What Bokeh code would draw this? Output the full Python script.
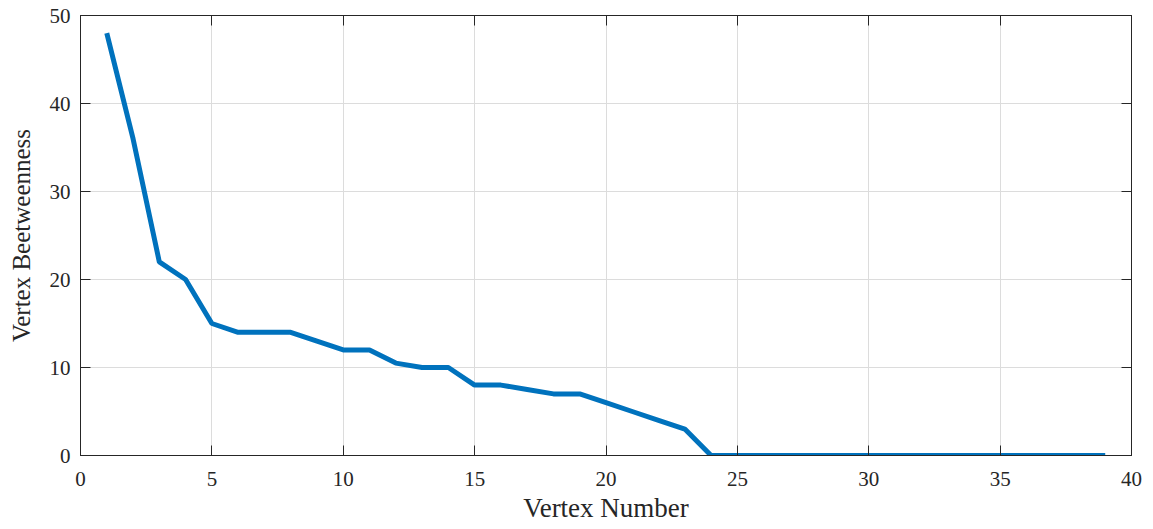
from bokeh.plotting import figure
from bokeh.models import Range1d, FixedTicker, LinearAxis, ColumnDataSource, CustomJSTickFormatter
from bokeh.embed import file_html
from bokeh.resources import INLINE

vertex_number = list(range(1, 40))
betweenness = [48, 36, 22, 20, 15, 14, 14, 14, 13, 12, 12, 10.5, 10, 10, 8, 8, 7.5, 7, 7,
               6, 5, 4, 3] + [0] * 16
x_ticks = [0, 5, 10, 15, 20, 25, 30, 35, 40]
y_ticks = [0, 10, 20, 30, 40, 50]

FONT = "Liberation Serif"
DARK = "#262626"

p = figure(width=1153, height=529, output_backend="svg", toolbar_location=None,
           x_range=Range1d(0, 40), y_range=Range1d(0, 50),
           min_border_left=80, min_border_right=22, min_border_top=15, min_border_bottom=74)
p.outline_line_color = DARK
p.outline_line_width = 1
p.background_fill_color = "white"
p.border_fill_color = "white"

src = ColumnDataSource(dict(x=vertex_number, y=betweenness))
p.line("x", "y", source=src, line_color="#0072BD", line_width=5)

for ax in (p.xaxis[0], p.yaxis[0]):
    ax.major_tick_in = 10
    ax.major_tick_out = 0
    ax.minor_tick_in = 0
    ax.minor_tick_out = 0
    ax.axis_line_color = DARK
    ax.major_tick_line_color = DARK
    ax.major_label_text_font = FONT
    ax.major_label_text_font_size = "21px"
    ax.major_label_text_color = DARK
    ax.axis_label_text_font = FONT
    ax.axis_label_text_font_style = "normal"
    ax.axis_label_text_color = DARK

p.xaxis[0].ticker = FixedTicker(ticks=x_ticks)
p.yaxis[0].ticker = FixedTicker(ticks=y_ticks)
p.xaxis[0].axis_label = "Vertex Number"
p.yaxis[0].axis_label = "Vertex Beetweenness"
p.xaxis[0].axis_label_text_font_size = "27px"
p.yaxis[0].axis_label_text_font_size = "25px"
p.xaxis[0].major_label_standoff = 16
p.yaxis[0].major_label_standoff = 10
p.xaxis[0].axis_label_standoff = 4
p.yaxis[0].axis_label_standoff = 12

blank = CustomJSTickFormatter(code="return ''")
top = LinearAxis(ticker=FixedTicker(ticks=x_ticks), major_tick_in=10, major_tick_out=0,
                 minor_tick_in=0, minor_tick_out=0, formatter=blank,
                 major_label_standoff=0, axis_line_color=DARK, major_tick_line_color=DARK)
right = LinearAxis(ticker=FixedTicker(ticks=y_ticks), major_tick_in=10, major_tick_out=0,
                   minor_tick_in=0, minor_tick_out=0, formatter=blank,
                   major_label_standoff=0, axis_line_color=DARK, major_tick_line_color=DARK)
p.add_layout(top, "above")
p.add_layout(right, "right")

p.xgrid.ticker = FixedTicker(ticks=x_ticks)
p.ygrid.ticker = FixedTicker(ticks=y_ticks)
p.grid.grid_line_color = "#dcdcdc"
p.grid.grid_line_width = 1

open("out.html", "w").write(file_html(p, INLINE))
